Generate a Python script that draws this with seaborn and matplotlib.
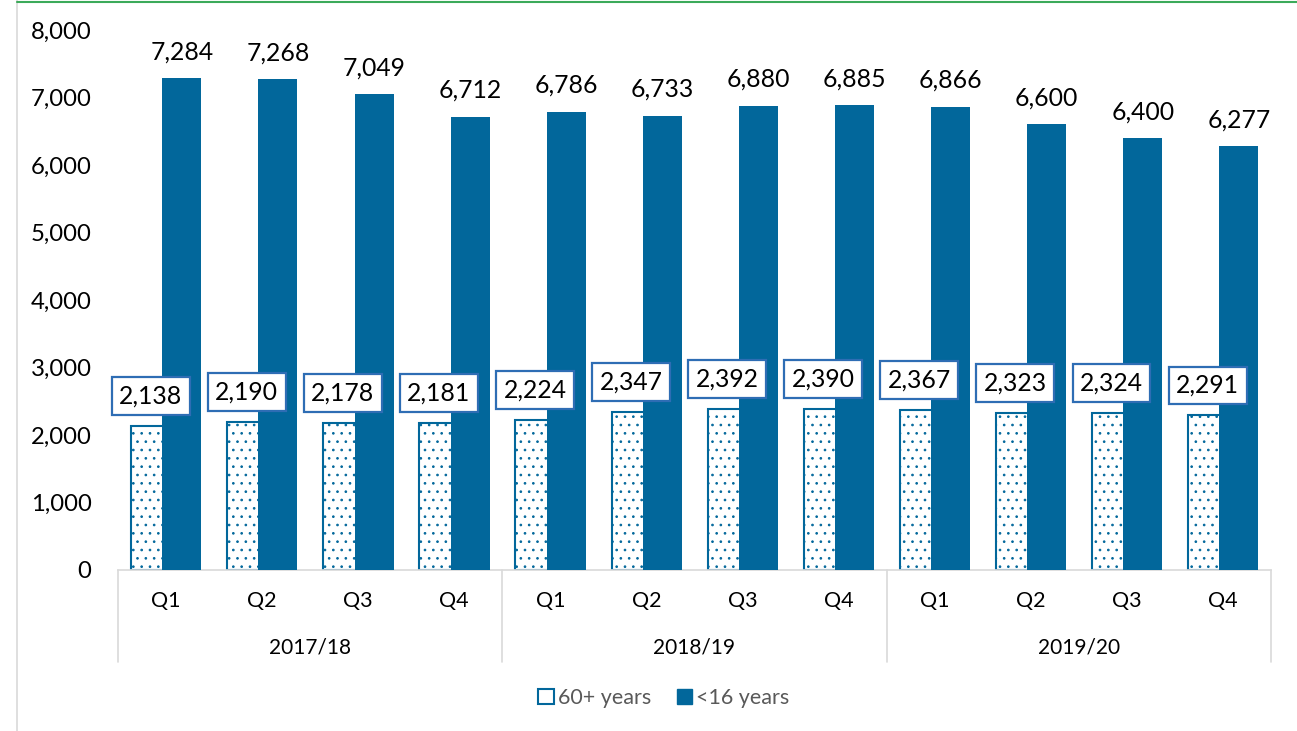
import numpy as np
import pandas as pd
import matplotlib
matplotlib.use("Agg")
import matplotlib.pyplot as plt
from matplotlib.lines import Line2D
from matplotlib.patches import Patch
import seaborn as sns

# Quarterly counts by age group
years = ["2017/18", "2018/19", "2019/20"]
quarters = ["Q1", "Q2", "Q3", "Q4"]
over_60 = [2138, 2190, 2178, 2181, 2224, 2347, 2392, 2390, 2367, 2323, 2324, 2291]
under_16 = [7284, 7268, 7049, 6712, 6786, 6733, 6880, 6885, 6866, 6600, 6400, 6277]
series_names = ["60+ years", "<16 years"]
y_ticks = [0, 1000, 2000, 3000, 4000, 5000, 6000, 7000, 8000]

BLUE = "#02679B"
BOX_EDGE = "#2E6DB4"
GRID_GREY = "#D9D9D9"
FONT = ["Lato", "DejaVu Sans"]

sns.set_theme(style="white")
plt.rcParams["font.family"] = FONT
plt.rcParams["hatch.linewidth"] = 0.7

fig = plt.figure(figsize=(12.97, 7.31), dpi=100)
ax = fig.add_axes([118 / 1297, 1 - 570 / 731, (1271 - 118) / 1297, 540 / 731])

idx = np.arange(len(over_60))
df = pd.DataFrame({"pos": idx, "old": over_60, "young": under_16})
df["pos_old"] = df["pos"] - 0.16
df["pos_young"] = df["pos"] + 0.165

sns.barplot(data=df, x="pos_old", y="old", native_scale=True, width=0.406,
            color="white", saturation=1, edgecolor=BLUE, hatch="..",
            linewidth=1.5, ax=ax, zorder=2)
sns.barplot(data=df, x="pos_young", y="young", native_scale=True, width=0.406,
            color=BLUE, saturation=1, linewidth=0, ax=ax, zorder=3)

ax.set_xlim(-0.5, len(idx) - 0.5)
ax.set_ylim(0, 8000)
ax.set_yticks(y_ticks)
ax.set_yticklabels([f"{v:,}" for v in y_ticks], fontsize=17.2, color="black")
ax.tick_params(axis="y", length=0, pad=19)
ax.set_xticks([])
ax.set_xlabel("")
ax.set_ylabel("")
for s in ["top", "right", "left"]:
    ax.spines[s].set_visible(False)
ax.spines["bottom"].set_color(GRID_GREY)
ax.spines["bottom"].set_linewidth(1.2)

# Value labels
for x, v in zip(df["pos_young"], under_16):
    ax.annotate(f"{v:,}", (x, v), xytext=(0, 19), textcoords="offset points",
                ha="center", va="center", fontsize=17.8, color="black")
for x, v in zip(df["pos_old"], over_60):
    ax.annotate(f"{v:,}", (x, v), xytext=(0, 21.5), textcoords="offset points",
                ha="center", va="center", fontsize=17.8, color="black", zorder=5,
                bbox=dict(boxstyle="square,pad=0.3", facecolor="white",
                          edgecolor=BOX_EDGE, linewidth=1.6))

# Two-level category axis
xt = ax.get_xaxis_transform()
for i, q in enumerate(quarters * len(years)):
    ax.text(i, -31 / 540, q, transform=xt, ha="center", va="center",
            fontsize=15.5, color="black")
for g, yr in enumerate(years):
    ax.text(g * 4 + 1.5, -77 / 540, yr, transform=xt, ha="center", va="center",
            fontsize=15, color="black")
for b in [-0.5, 3.5, 7.5, 11.5]:
    ax.plot([b, b], [0, -92 / 540], transform=xt, color=GRID_GREY, lw=1.2,
            clip_on=False)

# Legend
handles = [Patch(facecolor="white", edgecolor=BLUE, linewidth=1.5),
           Patch(facecolor=BLUE, edgecolor=BLUE)]
fig.legend(handles, series_names, loc="center", bbox_to_anchor=(664 / 1297, 1 - 698 / 731),
           ncol=2, frameon=False, fontsize=15.5, handlelength=0.7, handleheight=0.7,
           handletextpad=0.2, columnspacing=1.2, labelcolor="#595959")

# Chart frame
fig.add_artist(Line2D([17 / 1297, 17 / 1297], [0, 1], color=GRID_GREY, lw=1.2))
fig.add_artist(Line2D([17 / 1297, 1], [1 - 1.5 / 731, 1 - 1.5 / 731], color="#3CAA5A", lw=1.5))

fig.savefig("out.png", dpi=100)
